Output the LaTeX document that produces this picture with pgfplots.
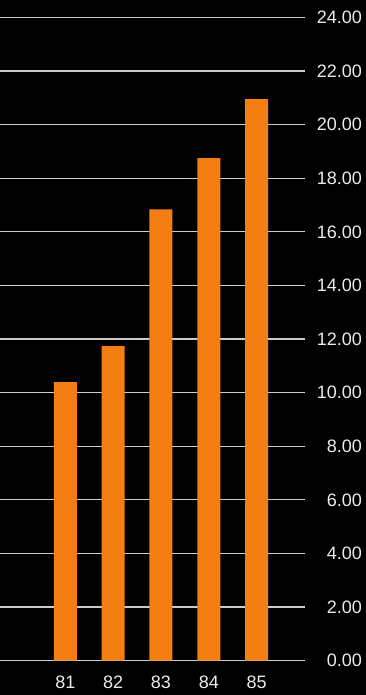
\documentclass[border=0pt]{standalone}
\usepackage{pgfplots}
\pgfplotsset{compat=1.18}
\usepackage{fontspec}
\setmainfont{Liberation Sans}
\definecolor{barorange}{RGB}{244,126,18}
\definecolor{gridgray}{RGB}{205,205,200}
\definecolor{labelgray}{RGB}{235,235,235}
\begin{document}
\begin{tikzpicture}[x=1pt,y=1pt]
\useasboundingbox (0,0) rectangle (366,695);
\fill[black] (0,0) rectangle (366,695);
\begin{axis}[
  at={(0pt,34.3pt)}, anchor=south west,
  scale only axis, width=305pt, height=643.2pt,
  xmin=79.635, xmax=86.01, ymin=0, ymax=24,
  axis line style={draw=none},
  ytick={0,2,...,24},
  yticklabels={0.00,2.00,4.00,6.00,8.00,10.00,12.00,14.00,16.00,18.00,20.00,22.00,24.00},
  yticklabel pos=right,
  xtick={81,82,83,84,85},
  xticklabels={81,82,83,84,85},
  major tick length=0pt,
  ymajorgrids,
  grid style={gridgray, line width=1.2pt},
  tick label style={font=\fontsize{18}{18}\selectfont, text=labelgray, inner sep=0pt},
  yticklabel style={anchor=east, xshift=57pt},
  xticklabel style={anchor=north, yshift=-15pt},
]
\addplot[ybar, bar width=23pt, fill=barorange, draw=none]
  coordinates {(81,10.39) (82,11.74) (83,16.84) (84,18.75) (85,20.95)};
\end{axis}
\end{tikzpicture}
\end{document}
